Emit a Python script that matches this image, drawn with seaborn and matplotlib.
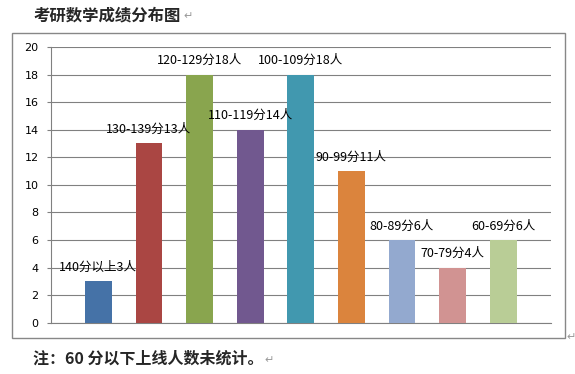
import matplotlib
matplotlib.use("Agg")
import matplotlib.pyplot as plt
import seaborn as sns
import pandas as pd
from matplotlib.patches import Rectangle

categories = ["140分以上", "130-139分", "120-129分", "110-119分", "100-109分",
              "90-99分", "80-89分", "70-79分", "60-69分"]
counts = [3, 13, 18, 14, 18, 11, 6, 4, 6]
bar_labels = ["140分以上3人", "130-139分13人", "120-129分18人", "110-119分14人",
              "100-109分18人", "90-99分11人", "80-89分6人", "70-79分4人", "60-69分6人"]
colors = ["#4572A7", "#AA4643", "#89A54E", "#71588F", "#4198AF",
          "#DB843D", "#93A9CF", "#D19392", "#B9CD96"]
yticks = [0, 2, 4, 6, 8, 10, 12, 14, 16, 18, 20]
title = "考研数学成绩分布图"
note = "注：60 分以下上线人数未统计。"

sns.set_theme(style="white")
plt.rcParams['font.family'] = ['Noto Sans CJK SC', 'DejaVu Sans']

df = pd.DataFrame({"cat": categories, "n": counts})

W, H = 575, 374
fig = plt.figure(figsize=(W / 100, H / 100), dpi=100)
fig.patch.set_facecolor("white")

# outer chart border
fig.add_artist(Rectangle((12 / W, 1 - 338 / H), (565 - 12) / W, (338 - 33) / H,
                         transform=fig.transFigure, fill=False,
                         edgecolor="#878787", linewidth=1.0))

ax = fig.add_axes([51 / W, 1 - 322.7 / H, (550.7 - 51) / W, (322.7 - 47) / H])
sns.barplot(data=df, x="cat", y="n", hue="cat", order=categories, hue_order=categories,
            palette=colors, saturation=1, width=0.53, legend=False, ax=ax, zorder=3,
            linewidth=0, edgecolor="none")

ax.set_xlim(-0.935, 8.94)
ax.set_ylim(0, 20)
ax.set_yticks(yticks)
ax.set_yticklabels([str(t) for t in yticks], fontsize=8, family="DejaVu Sans")
ax.set_xticks([])
ax.set_xlabel("")
ax.set_ylabel("")
ax.grid(axis="y", color="#808080", linewidth=0.8, zorder=0)
ax.set_axisbelow(True)
for s in ["top", "right"]:
    ax.spines[s].set_visible(False)
for s in ["left", "bottom"]:
    ax.spines[s].set_color("#808080")
    ax.spines[s].set_linewidth(0.8)
ax.tick_params(axis="y", which="both", left=True, length=3, width=0.8,
               color="#808080", pad=6, labelcolor="black")

for i, (v, lab) in enumerate(zip(counts, bar_labels)):
    ax.annotate(lab, (i, v), xytext=(0, 10), textcoords="offset points",
                ha="center", va="center", fontsize=9, color="black", zorder=5)

fig.text(33 / W, 1 - 15 / H, title, fontsize=11.8, fontweight="bold",
         ha="left", va="center")
fig.text(183 / W, 1 - 16 / H, "↵", fontsize=8, color="#999999",
         ha="left", va="center", family="DejaVu Sans")
fig.text(33 / W, 1 - 359 / H, note, fontsize=11.5, fontweight="bold",
         ha="left", va="center")
fig.text(264 / W, 1 - 360 / H, "↵", fontsize=8, color="#999999",
         ha="left", va="center", family="DejaVu Sans")
fig.text(566 / W, 1 - 337 / H, "↵", fontsize=8, color="#999999",
         ha="left", va="center", family="DejaVu Sans")

fig.savefig("out.png", dpi=100, facecolor="white")
